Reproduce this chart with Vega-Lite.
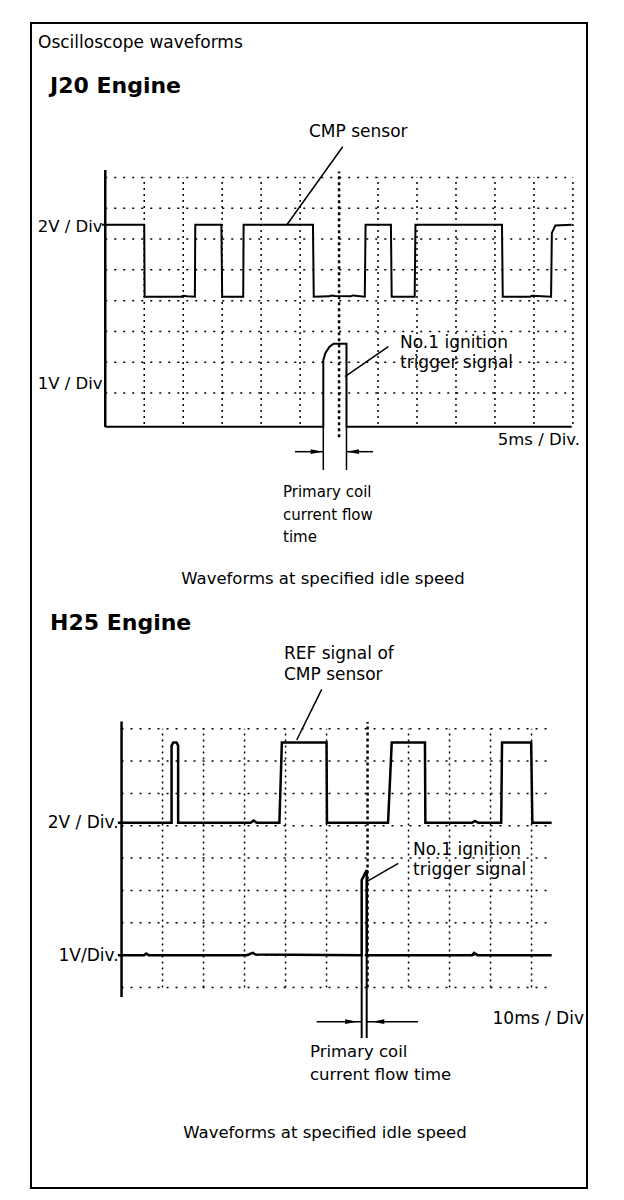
{
  "$schema": "https://vega.github.io/schema/vega-lite/v6.json",
  "width": 624,
  "height": 1200,
  "autosize": "none",
  "padding": 0,
  "background": "#ffffff",
  "config": {"view": {"stroke": null}, "text": {"font": "DejaVu Sans", "color": "#000000"}},
  "datasets": {
    "j20_frame": [{"t": -1.906, "t2": 12.362, "v": 13.012, "v2": -24.8}],
    "j20_vgrid": [
      {"t": 1, "v": 0, "v2": 8}, {"t": 2, "v": 0, "v2": 8}, {"t": 3, "v": 0, "v2": 8}, {"t": 4, "v": 0, "v2": 8},
      {"t": 5, "v": 0, "v2": 8}, {"t": 7, "v": 0, "v2": 8}, {"t": 8, "v": 0, "v2": 8}, {"t": 9, "v": 0, "v2": 8},
      {"t": 10, "v": 0, "v2": 8}, {"t": 11, "v": 0, "v2": 8}, {"t": 12, "v": 0, "v2": 8}
    ],
    "j20_vcenter": [{"t": 6, "v": -0.43, "v2": 8.19}],
    "j20_hgrid": [
      {"v": 1, "t": 0, "t2": 12}, {"v": 2, "t": 0, "t2": 12}, {"v": 3, "t": 0, "t2": 12}, {"v": 4, "t": 0, "t2": 12},
      {"v": 5, "t": 0, "t2": 12}, {"v": 6, "t": 0, "t2": 12}, {"v": 7, "t": 0, "t2": 12}, {"v": 8, "t": 0, "t2": 12}
    ],
    "j20_axis": [{"t": 0, "v": -0.1, "v2": 8.24}],
    "j20_cmp": [
      {"i": 1, "t": -0.08, "v": 6.46}, {"i": 2, "t": 1.0, "v": 6.46}, {"i": 3, "t": 1.01, "v": 4.13},
      {"i": 4, "t": 1.95, "v": 4.13}, {"i": 5, "t": 2.0, "v": 4.16}, {"i": 6, "t": 2.1, "v": 4.14},
      {"i": 7, "t": 2.3, "v": 4.13}, {"i": 8, "t": 2.31, "v": 6.46}, {"i": 9, "t": 2.98, "v": 6.46},
      {"i": 10, "t": 3.0, "v": 4.13}, {"i": 11, "t": 3.54, "v": 4.13}, {"i": 12, "t": 3.55, "v": 6.46},
      {"i": 13, "t": 5.33, "v": 6.46}, {"i": 14, "t": 5.35, "v": 4.13}, {"i": 15, "t": 5.75, "v": 4.14},
      {"i": 16, "t": 5.8, "v": 4.17}, {"i": 17, "t": 5.9, "v": 4.15}, {"i": 18, "t": 6.3, "v": 4.14},
      {"i": 19, "t": 6.35, "v": 4.17}, {"i": 20, "t": 6.66, "v": 4.13}, {"i": 21, "t": 6.68, "v": 6.46},
      {"i": 22, "t": 7.33, "v": 6.46}, {"i": 23, "t": 7.35, "v": 4.13}, {"i": 24, "t": 7.94, "v": 4.13},
      {"i": 25, "t": 7.96, "v": 6.46}, {"i": 26, "t": 10.18, "v": 6.46}, {"i": 27, "t": 10.2, "v": 4.13},
      {"i": 28, "t": 10.9, "v": 4.13}, {"i": 29, "t": 10.95, "v": 4.16}, {"i": 30, "t": 11.44, "v": 4.13},
      {"i": 31, "t": 11.46, "v": 6.2}, {"i": 32, "t": 11.55, "v": 6.44}, {"i": 33, "t": 11.97, "v": 6.46}
    ],
    "j20_trig": [
      {"i": 1, "t": 0, "v": -0.09}, {"i": 2, "t": 5.595, "v": -0.09}, {"i": 3, "t": 5.595, "v": 2.07},
      {"i": 4, "t": 5.65, "v": 2.3}, {"i": 5, "t": 5.75, "v": 2.5}, {"i": 6, "t": 5.86, "v": 2.6},
      {"i": 7, "t": 6.19, "v": 2.6}, {"i": 8, "t": 6.19, "v": -0.09}, {"i": 9, "t": 11.97, "v": -0.09}
    ],
    "j20_marks": [{"t": 5.595, "v": -0.09, "v2": -1.496}, {"t": 6.19, "v": -0.09, "v2": -1.496}],
    "j20_segments": [
      {"t": 6.093, "v": 8.997, "t2": 4.656, "v2": 6.456},
      {"t": 7.263, "v": 2.506, "t2": 6.152, "v2": 1.532},
      {"t": 4.869, "v": -0.902, "t2": 5.595, "v2": -0.902},
      {"t": 6.19, "v": -0.902, "t2": 6.871, "v2": -0.902}
    ],
    "j20_heads": [{"t": 5.426, "v": -0.902, "dir": "right"}, {"t": 6.357, "v": -0.902, "dir": "left"}],
    "j20_txt17": [
      {"label": "Oscilloscope waveforms", "t": -1.726, "v": 12.2},
      {"label": "CMP sensor", "t": 5.228, "v": 9.312},
      {"label": "No.1 ignition", "t": 7.563, "v": 2.463},
      {"label": "trigger signal", "t": 7.563, "v": 1.814}
    ],
    "j20_title": [{"label": "J20 Engine", "t": -1.418, "v": 10.74}],
    "j20_right": [
      {"label": "2V / Div", "t": -0.07, "v": 6.229},
      {"label": "1V / Div", "t": -0.07, "v": 1.12},
      {"label": "5ms / Div.", "t": 12.182, "v": -0.685}
    ],
    "j20_small": [
      {"label": "Primary coil", "t": 4.561, "v": -2.373},
      {"label": "current flow", "t": 4.561, "v": -3.119},
      {"label": "time", "t": 4.561, "v": -3.833}
    ],
    "j20_caption": [{"label": "Waveforms at specified idle speed", "t": 5.587, "v": -5.196}],

    "h25_vgrid": [
      {"t": 1, "v": 0, "v2": 8}, {"t": 2, "v": 0, "v2": 8}, {"t": 3, "v": 0, "v2": 8}, {"t": 4, "v": 0, "v2": 8},
      {"t": 5, "v": 0, "v2": 8}, {"t": 7, "v": 0, "v2": 8}, {"t": 8, "v": 0, "v2": 8}, {"t": 9, "v": 0, "v2": 8},
      {"t": 10, "v": 0, "v2": 8}
    ],
    "h25_vcenter": [{"t": 6, "v": 0, "v2": 8.21}],
    "h25_hgrid": [
      {"v": 0, "t": 0, "t2": 10.49}, {"v": 1, "t": 0, "t2": 10.49}, {"v": 2, "t": 0, "t2": 10.49}, {"v": 3, "t": 0, "t2": 10.49},
      {"v": 4, "t": 0, "t2": 10.49}, {"v": 5, "t": 0, "t2": 10.49}, {"v": 6, "t": 0, "t2": 10.49}, {"v": 7, "t": 0, "t2": 10.49},
      {"v": 8, "t": 0, "t2": 10.49}
    ],
    "h25_axis": [{"t": 0, "v": -0.29, "v2": 8.22}],
    "h25_cmp": [
      {"i": 1, "t": -0.09, "v": 5.09}, {"i": 2, "t": 1.22, "v": 5.09}, {"i": 3, "t": 1.22, "v": 7.48},
      {"i": 4, "t": 1.26, "v": 7.57}, {"i": 5, "t": 1.34, "v": 7.57}, {"i": 6, "t": 1.38, "v": 7.48},
      {"i": 7, "t": 1.38, "v": 5.09}, {"i": 8, "t": 3.15, "v": 5.09}, {"i": 9, "t": 3.22, "v": 5.16},
      {"i": 10, "t": 3.3, "v": 5.09}, {"i": 11, "t": 3.85, "v": 5.09}, {"i": 12, "t": 3.91, "v": 7.57},
      {"i": 13, "t": 5.0, "v": 7.57}, {"i": 14, "t": 5.01, "v": 5.09}, {"i": 15, "t": 6.5, "v": 5.09},
      {"i": 16, "t": 6.59, "v": 7.57}, {"i": 17, "t": 7.4, "v": 7.57}, {"i": 18, "t": 7.41, "v": 5.09},
      {"i": 19, "t": 8.55, "v": 5.09}, {"i": 20, "t": 8.62, "v": 5.15}, {"i": 21, "t": 8.7, "v": 5.09},
      {"i": 22, "t": 9.26, "v": 5.09}, {"i": 23, "t": 9.28, "v": 7.57}, {"i": 24, "t": 9.99, "v": 7.57},
      {"i": 25, "t": 10.02, "v": 5.09}, {"i": 26, "t": 10.49, "v": 5.09}
    ],
    "h25_trig": [
      {"i": 1, "t": -0.09, "v": 1.0}, {"i": 2, "t": 0.55, "v": 1.0}, {"i": 3, "t": 0.6, "v": 1.05},
      {"i": 4, "t": 0.66, "v": 1.0}, {"i": 5, "t": 3.05, "v": 1.0}, {"i": 6, "t": 3.2, "v": 1.07},
      {"i": 7, "t": 3.27, "v": 1.02}, {"i": 8, "t": 5.857, "v": 1.0}, {"i": 9, "t": 5.857, "v": 3.32},
      {"i": 10, "t": 5.979, "v": 3.63}, {"i": 11, "t": 5.979, "v": 1.0}, {"i": 12, "t": 8.55, "v": 1.0},
      {"i": 13, "t": 8.6, "v": 1.07}, {"i": 14, "t": 8.68, "v": 1.0}, {"i": 15, "t": 10.49, "v": 1.0}
    ],
    "h25_marks": [{"t": 5.857, "v": 1.0, "v2": -1.561}, {"t": 5.979, "v": 1.0, "v2": -1.561}],
    "h25_segments": [
      {"t": 4.882, "v": 9.218, "t2": 4.272, "v2": 7.651},
      {"t": 6.75, "v": 3.839, "t2": 5.979, "v2": 3.27},
      {"t": 4.76, "v": -1.057, "t2": 5.857, "v2": -1.057},
      {"t": 5.979, "v": -1.057, "t2": 7.231, "v2": -1.057}
    ],
    "h25_heads": [{"t": 5.6, "v": -1.057, "dir": "right"}, {"t": 6.262, "v": -1.057, "dir": "left"}],
    "h25_txt17": [
      {"label": "REF signal of", "t": 3.962, "v": 10.145},
      {"label": "CMP sensor", "t": 3.962, "v": 9.505},
      {"label": "No.1 ignition", "t": 7.109, "v": 4.096},
      {"label": "trigger signal", "t": 7.109, "v": 3.478}
    ],
    "h25_title": [{"label": "H25 Engine", "t": -1.745, "v": 11.051}],
    "h25_right": [
      {"label": "2V / Div.", "t": -0.07, "v": 4.93},
      {"label": "1V/Div.", "t": -0.07, "v": 0.82},
      {"label": "10ms / Div", "t": 11.279, "v": -1.128}
    ],
    "h25_small": [
      {"label": "Primary coil", "t": 4.596, "v": -2.139},
      {"label": "current flow time", "t": 4.596, "v": -2.859}
    ],
    "h25_caption": [{"label": "Waveforms at specified idle speed", "t": 4.962, "v": -4.652}]
  },
  "resolve": {"scale": {"x": "independent", "y": "independent"}},
  "layer": [
    {
      "encoding": {
        "x": {"field": "t", "type": "quantitative", "scale": {"domain": [-2.7011, 13.3113], "nice": false, "zero": false}, "axis": null},
        "y": {"field": "v", "type": "quantitative", "scale": {"domain": [-25.19, 13.7585], "nice": false, "zero": false}, "axis": null}
      },
      "layer": [
        {"data": {"name": "j20_frame"}, "mark": {"type": "rect", "filled": false, "color": "#000000", "strokeWidth": 2}, "encoding": {"x2": {"field": "t2"}, "y2": {"field": "v2"}}},
        {"data": {"name": "j20_vgrid"}, "mark": {"type": "rule", "color": "#000000", "strokeWidth": 1.5, "strokeDash": [2, 4]}, "encoding": {"y2": {"field": "v2"}}},
        {"data": {"name": "j20_hgrid"}, "mark": {"type": "rule", "color": "#000000", "strokeWidth": 1.5, "strokeDash": [2, 7]}, "encoding": {"x2": {"field": "t2"}}},
        {"data": {"name": "j20_vcenter"}, "mark": {"type": "rule", "color": "#000000", "strokeWidth": 2.5, "strokeDash": [3, 3]}, "encoding": {"y2": {"field": "v2"}}},
        {"data": {"name": "j20_axis"}, "mark": {"type": "rule", "color": "#000000", "strokeWidth": 2.5}, "encoding": {"y2": {"field": "v2"}}},
        {"data": {"name": "j20_cmp"}, "mark": {"type": "line", "color": "#000000", "strokeWidth": 2}, "encoding": {"order": {"field": "i", "type": "quantitative"}}},
        {"data": {"name": "j20_trig"}, "mark": {"type": "line", "color": "#000000", "strokeWidth": 2}, "encoding": {"order": {"field": "i", "type": "quantitative"}}},
        {"data": {"name": "j20_marks"}, "mark": {"type": "rule", "color": "#000000", "strokeWidth": 1.5}, "encoding": {"y2": {"field": "v2"}}},
        {"data": {"name": "j20_segments"}, "mark": {"type": "rule", "color": "#000000", "strokeWidth": 1.5}, "encoding": {"x2": {"field": "t2"}, "y2": {"field": "v2"}}},
        {"data": {"name": "j20_heads"}, "mark": {"type": "point", "filled": true, "color": "#000000", "size": 144, "strokeWidth": 0, "opacity": 1},
         "encoding": {"shape": {"field": "dir", "type": "nominal", "scale": {"domain": ["right", "left"], "range": ["M-1,-0.4L1,0L-1,0.4Z", "M1,-0.4L-1,0L1,0.4Z"]}, "legend": null}}},
        {"data": {"name": "j20_txt17"}, "mark": {"type": "text", "fontSize": 17, "align": "left", "baseline": "alphabetic"}, "encoding": {"text": {"field": "label"}}},
        {"data": {"name": "j20_title"}, "mark": {"type": "text", "fontSize": 22, "fontWeight": "bold", "align": "left", "baseline": "alphabetic"}, "encoding": {"text": {"field": "label"}}},
        {"data": {"name": "j20_right"}, "mark": {"type": "text", "fontSize": 16.5, "align": "right", "baseline": "alphabetic"}, "encoding": {"text": {"field": "label"}}},
        {"data": {"name": "j20_small"}, "mark": {"type": "text", "fontSize": 15, "align": "left", "baseline": "alphabetic"}, "encoding": {"text": {"field": "label"}}},
        {"data": {"name": "j20_caption"}, "mark": {"type": "text", "fontSize": 16.5, "align": "center", "baseline": "alphabetic"}, "encoding": {"text": {"field": "label"}}}
      ]
    },
    {
      "encoding": {
        "x": {"field": "t", "type": "quantitative", "scale": {"domain": [-2.9646, 12.2549], "nice": false, "zero": false}, "axis": null},
        "y": {"field": "v", "type": "quantitative", "scale": {"domain": [-6.5688, 30.5255], "nice": false, "zero": false}, "axis": null}
      },
      "layer": [
        {"data": {"name": "h25_vgrid"}, "mark": {"type": "rule", "color": "#000000", "strokeWidth": 1.5, "strokeDash": [2, 4]}, "encoding": {"y2": {"field": "v2"}}},
        {"data": {"name": "h25_hgrid"}, "mark": {"type": "rule", "color": "#000000", "strokeWidth": 1.5, "strokeDash": [2, 7]}, "encoding": {"x2": {"field": "t2"}}},
        {"data": {"name": "h25_vcenter"}, "mark": {"type": "rule", "color": "#000000", "strokeWidth": 2.5, "strokeDash": [3, 3]}, "encoding": {"y2": {"field": "v2"}}},
        {"data": {"name": "h25_axis"}, "mark": {"type": "rule", "color": "#000000", "strokeWidth": 2.5}, "encoding": {"y2": {"field": "v2"}}},
        {"data": {"name": "h25_cmp"}, "mark": {"type": "line", "color": "#000000", "strokeWidth": 2.5}, "encoding": {"order": {"field": "i", "type": "quantitative"}}},
        {"data": {"name": "h25_trig"}, "mark": {"type": "line", "color": "#000000", "strokeWidth": 2.5}, "encoding": {"order": {"field": "i", "type": "quantitative"}}},
        {"data": {"name": "h25_marks"}, "mark": {"type": "rule", "color": "#000000", "strokeWidth": 2}, "encoding": {"y2": {"field": "v2"}}},
        {"data": {"name": "h25_segments"}, "mark": {"type": "rule", "color": "#000000", "strokeWidth": 1.5}, "encoding": {"x2": {"field": "t2"}, "y2": {"field": "v2"}}},
        {"data": {"name": "h25_heads"}, "mark": {"type": "point", "filled": true, "color": "#000000", "size": 144, "strokeWidth": 0, "opacity": 1},
         "encoding": {"shape": {"field": "dir", "type": "nominal", "scale": {"domain": ["right", "left"], "range": ["M-1,-0.4L1,0L-1,0.4Z", "M1,-0.4L-1,0L1,0.4Z"]}, "legend": null}}},
        {"data": {"name": "h25_txt17"}, "mark": {"type": "text", "fontSize": 17, "align": "left", "baseline": "alphabetic"}, "encoding": {"text": {"field": "label"}}},
        {"data": {"name": "h25_title"}, "mark": {"type": "text", "fontSize": 22, "fontWeight": "bold", "align": "left", "baseline": "alphabetic"}, "encoding": {"text": {"field": "label"}}},
        {"data": {"name": "h25_right"}, "mark": {"type": "text", "fontSize": 17, "align": "right", "baseline": "alphabetic"}, "encoding": {"text": {"field": "label"}}},
        {"data": {"name": "h25_small"}, "mark": {"type": "text", "fontSize": 16.5, "align": "left", "baseline": "alphabetic"}, "encoding": {"text": {"field": "label"}}},
        {"data": {"name": "h25_caption"}, "mark": {"type": "text", "fontSize": 16.5, "align": "center", "baseline": "alphabetic"}, "encoding": {"text": {"field": "label"}}}
      ]
    }
  ]
}
